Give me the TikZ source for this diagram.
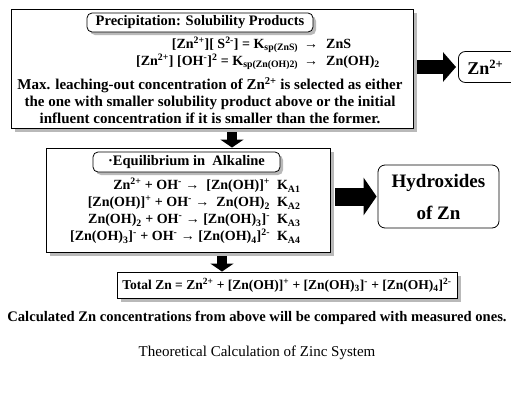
\documentclass[tikz,border=0pt]{standalone}
\usepackage{fontspec}
\setmainfont{Liberation Serif}
\usetikzlibrary{arrows.meta,shadows}
\begin{document}
\begin{tikzpicture}[x=1pt,y=-1pt,
  shade box/.style={drop shadow={shadow xshift=4pt,shadow yshift=-4pt,fill=gray!55,opacity=1}},
  bigbox/.style={draw,line width=0.9pt,fill=white,inner sep=0pt,shade box},
  titlebox/.style={draw,line width=0.8pt,fill=white,rounded corners=5pt,inner sep=0pt,
    drop shadow={shadow xshift=3pt,shadow yshift=-3pt,fill=gray!55,opacity=1},
    font=\bfseries\fontsize{14.5}{17}\selectfont},
  roundbox/.style={draw,line width=0.8pt,fill=white,rounded corners=7pt},
  txt/.style={font=\bfseries\fontsize{15}{17}\selectfont,inner sep=0pt},
  eqtxt/.style={font=\bfseries\fontsize{14}{17}\selectfont,inner sep=0pt},
  blockarrow/.style={line width=#1},
]
\useasboundingbox (0,0) rectangle (511,410);

% --- precipitation block
\node[bigbox,minimum width=402pt,minimum height=119pt] (prec) at (212,68.5) {};
\node[titlebox,minimum width=226pt,minimum height=19pt] (prect) at (200,22.5) {Precipitation: Solubility Products};
\node[eqtxt,anchor=west] (preceq) at (136,53.5) {\begin{tabular}{@{}r@{\hspace{6pt}}c@{\hspace{8pt}}l@{}}
{[}Zn\textsuperscript{2+}][ S\textsuperscript{2-}] = K\textsubscript{sp(ZnS)} & → & ZnS\\
{[}Zn\textsuperscript{2+}] [OH\textsuperscript{-}]\textsuperscript{2} = K\textsubscript{sp(Zn(OH)2)} & → & Zn(OH)\textsubscript{2}
\end{tabular}};
\node[txt,align=center] (prectext) at (210,100.5) {Max. leaching-out concentration of Zn\textsuperscript{2+} is selected as either\\
the one with smaller solubility product above or the initial\\
influent concentration if it is smaller than the former.};

% --- Zn2+ box
\node[roundbox,anchor=west,minimum height=31pt,text width=50pt,align=left,inner xsep=9pt,
  font=\bfseries\fontsize{18}{20}\selectfont] (zn) at (458,67) {Zn\textsuperscript{2+}};

% --- equilibrium block
\node[bigbox,minimum width=284pt,minimum height=104pt] (eq) at (188,200) {};
\node[titlebox,minimum width=187pt,minimum height=20pt] (eqt) at (186.5,162) {·Equilibrium in~ Alkaline};
\node[eqtxt,anchor=west] (eqlines) at (70,212) {\begin{tabular}{@{}r@{\hspace{7pt}}l@{}}
Zn\textsuperscript{2+} + OH\textsuperscript{-} →~ [Zn(OH)]\textsuperscript{+} & K\textsubscript{A1}\\
{[}Zn(OH)]\textsuperscript{+} + OH\textsuperscript{-} →~ Zn(OH)\textsubscript{2} & K\textsubscript{A2}\\
Zn(OH)\textsubscript{2} + OH\textsuperscript{-} → [Zn(OH)\textsubscript{3}]\textsuperscript{-} & K\textsubscript{A3}\\
{[}Zn(OH)\textsubscript{3}]\textsuperscript{-} + OH\textsuperscript{-} → [Zn(OH)\textsubscript{4}]\textsuperscript{2-} & K\textsubscript{A4}
\end{tabular}};

% --- hydroxides box
\node[roundbox,minimum width=121pt,minimum height=63pt,align=center,
  font=\bfseries\fontsize{19}{32}\selectfont] (hyd) at (438.5,196.5) {Hydroxides\\of Zn};

% --- total box
\node[bigbox,minimum width=340pt,minimum height=26pt,font=\bfseries\fontsize{13.5}{16}\selectfont] (tot) at (287,285)
  {Total Zn = Zn\textsuperscript{2+} + [Zn(OH)]\textsuperscript{+} + [Zn(OH)\textsubscript{3}]\textsuperscript{-} + [Zn(OH)\textsubscript{4}]\textsuperscript{2-}};

% --- texts below
\node[inner sep=0pt,font=\bfseries\fontsize{14.6}{17}\selectfont] (calc) at (257,318) {Calculated Zn concentrations from above will be compared with measured ones.};
\node[inner sep=0pt,font=\fontsize{15}{18}\selectfont] (cap) at (257,353) {Theoretical Calculation of Zinc System};

% --- arrows
\coordinate (a1) at (232,0);
\coordinate (a2) at (222,0);
\draw[blockarrow=14pt,-{Triangle[length=13pt,width=29pt]},shorten <=4pt,shorten >=2pt] (prec.east |- zn.west) -- (zn.west);
\draw[blockarrow=18pt,-{Triangle[length=13pt,width=37pt]},shorten <=5pt,shorten >=1pt] (eq.east |- hyd.west) -- (hyd.west);
\draw[blockarrow=10pt,-{Triangle[length=8pt,width=23pt]},shorten <=4pt] (prec.south -| a1) -- (eq.north -| a1);
\draw[blockarrow=10pt,-{Triangle[length=8pt,width=23pt]},shorten <=4pt] (eq.south -| a2) -- (tot.north -| a2);
\end{tikzpicture}
\end{document}
